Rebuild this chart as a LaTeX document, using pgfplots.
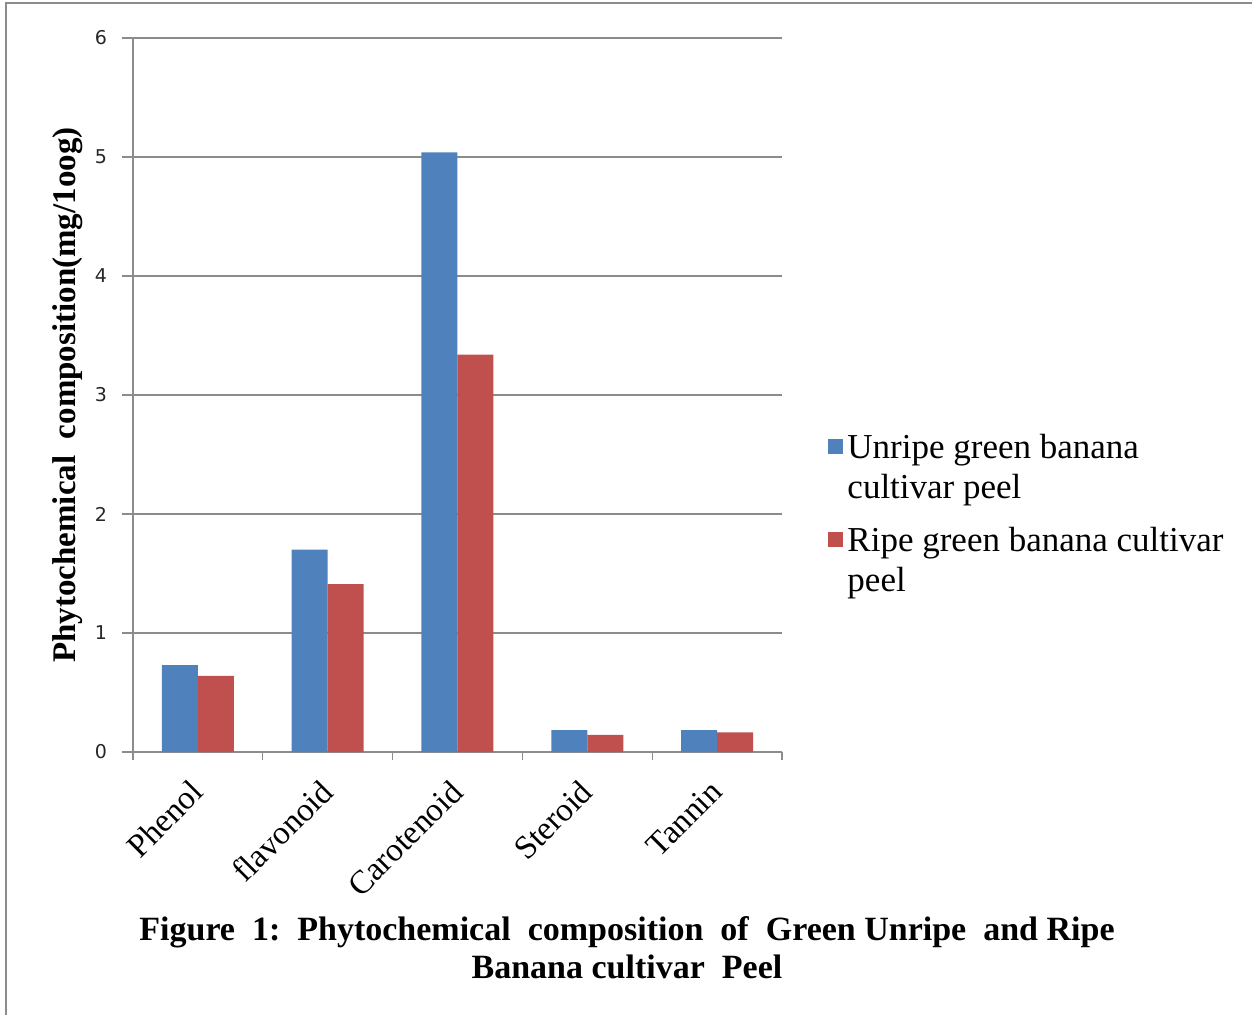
\documentclass[border=0pt]{standalone}
\usepackage{pgfplots}
\pgfplotsset{compat=1.18}
\usepackage{fontspec}
\setmainfont{Liberation Serif}
\newfontfamily\tickfont{DejaVu Sans}
\definecolor{cblue}{HTML}{4F81BD}
\definecolor{cred}{HTML}{C0504D}
\definecolor{gridc}{HTML}{8C8C8C}
\begin{document}
\begin{tikzpicture}
\path[use as bounding box] (0pt,0pt) rectangle (626pt,-507pt);
\draw[gridc, line width=0.6pt] (3pt,-520pt) -- (3pt,-1.5pt) -- (640pt,-1.5pt);
\begin{axis}[
  at={(66.5pt,-376pt)}, anchor=south west,
  scale only axis, width=324.5pt, height=357pt,
  xmin=-0.5, xmax=4.5, ymin=0, ymax=6,
  ytick={0,1,2,3,4,5,6},
  xtick={0,1,2,3,4},
  xticklabels={Phenol,flavonoid,Carotenoid,Steroid,Tannin},
  minor xtick={-0.5,0.5,1.5,2.5,3.5,4.5},
  major x tick style={draw=none},
  tick align=outside,
  major tick length=5.5pt, minor tick length=4pt,
  tick style={gridc, line width=0.6pt},
  axis x line*=bottom, axis y line*=left,
  axis line style={gridc, line width=0.6pt, -},
  ymajorgrids, grid style={gridc, line width=0.6pt},
  ybar=0pt, bar width=18pt,
  yticklabel style={font=\tickfont\fontsize{9.5}{11}\selectfont, text=black!85, xshift=-4pt},
  /pgf/number format/assume math mode=true,
  xticklabel style={font=\fontsize{16.5}{18}\selectfont, rotate=45, anchor=east, xshift=-5pt, yshift=-8pt},
  ylabel={\textbf{Phytochemical\ \ composition(mg/1oog)}},
  ylabel style={font=\fontsize{16.5}{18}\selectfont, at={(axis description cs:-0.1,0.5)}, anchor=center},
  legend style={at={(1.071,0.451)}, anchor=north west, draw=none, fill=none, inner sep=0pt,
    font=\fontsize{17.5}{20}\selectfont, row sep=29pt,
    /tikz/every even column/.append style={column sep=3pt}},
  legend cell align=left,
  legend image code/.code={\fill[#1, draw=none] (0pt,-3pt) rectangle (7.5pt,4.5pt);},
]
\addplot[fill=cblue, draw=none] coordinates {(0,0.73) (1,1.70) (2,5.04) (3,0.185) (4,0.185)};
\addplot[fill=cred, draw=none] coordinates {(0,0.64) (1,1.41) (2,3.34) (3,0.145) (4,0.165)};
\addlegendentry{\parbox[t]{200pt}{Unripe green banana\\cultivar peel}}
\addlegendentry{\parbox[t]{200pt}{Ripe green banana cultivar\\peel}}
\end{axis}
\node[font=\bfseries\fontsize{17}{19}\selectfont, align=center, anchor=base] at (313.5pt,-489pt)
  {Figure\ \ 1:\ \ Phytochemical\ \ composition\ \ of\ \ Green Unripe\ \ and Ripe\\Banana cultivar\ \ Peel};
\end{tikzpicture}
\end{document}
